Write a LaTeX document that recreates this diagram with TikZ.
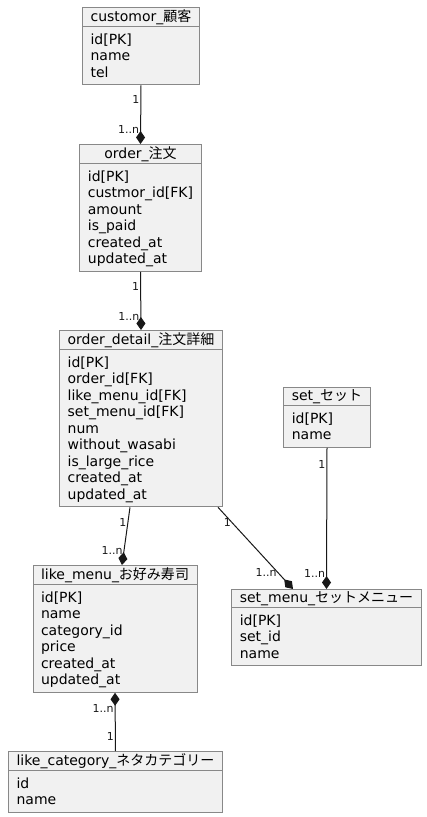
\documentclass[tikz,border=0pt]{standalone}
\usepackage{fontspec}
\setmainfont{DejaVu Sans}
\newfontfamily\jp{Noto Sans CJK JP}
\usetikzlibrary{shapes.multipart,arrows.meta}

\definecolor{boxfill}{HTML}{F1F1F1}
\definecolor{boxline}{HTML}{888888}
\definecolor{linecol}{HTML}{181818}

% struts for the title and the first / last field rows
\newcommand{\hd}{\rule[-3.5bp]{0pt}{13.5bp}}
\newcommand{\fst}{\rule{0pt}{15.5bp}}
\newcommand{\lst}{\rule[-5.5bp]{0pt}{0pt}}

\tikzset{
  entity/.style={draw=boxline, fill=boxfill, line width=1bp, rectangle split, rectangle split parts=2,
    rectangle split part align={center,left}, align=left, inner xsep=8bp, inner ysep=1.5bp,
    anchor=north, font=\fontsize{14bp}{16.5bp}\selectfont},
  rel/.style={draw=linecol, line width=1bp},
  many/.style={-{Diamond[length=13bp,width=9bp,fill=linecol]}},
  manyrev/.style={{Diamond[length=13bp,width=9bp,fill=linecol]}-},
  card/.style={font=\fontsize{11bp}{13bp}\selectfont, inner sep=1bp, left, text=linecol}
}

\begin{document}
\begin{tikzpicture}[x=1bp,y=-1bp]
    \useasboundingbox (0,0) rectangle (426,817);

    \node[entity] (cust) at (141,7) {\hd customor\_{\jp 顧客}
      \nodepart{two} \fst id[PK]\\ name\\ tel\lst};
    \node[entity] (ord) at (140.5,144) {\hd order\_{\jp 注文}
      \nodepart{two} \fst id[PK]\\ custmor\_id[FK]\\ amount\\ is\_paid\\ created\_at\\ updated\_at\lst};
    \node[entity] (det) at (141,330) {\hd order\_detail\_{\jp 注文詳細}
      \nodepart{two} \fst id[PK]\\ order\_id[FK]\\ like\_menu\_id[FK]\\ set\_menu\_id[FK]\\ num\\
      without\_wasabi\\ is\_large\_rice\\ created\_at\\ updated\_at\lst};
    \node[entity] (set) at (327,387) {\hd set\_{\jp セット}
      \nodepart{two} \fst id[PK]\\ name\lst};
    \node[entity] (lm) at (115,565) {\hd like\_menu\_{\jp お好み寿司}
      \nodepart{two} \fst id[PK]\\ name\\ category\_id\\ price\\ created\_at\\ updated\_at\lst};
    \node[entity] (sm) at (326.5,589) {\hd set\_menu\_{\jp セットメニュー}
      \nodepart{two} \fst id[PK]\\ set\_id\\ name\lst};
    \node[entity] (lc) at (115.5,751) {\hd like\_category\_{\jp ネタカテゴリー}
      \nodepart{two} \fst id\\ name\lst};

    \draw[rel,many] (cust.south) -- node[card, pos=0.25] {1} node[card, pos=0.76] {1..n} (ord.north);
    \draw[rel,many] (ord.south) -- node[card, pos=0.25] {1} node[card, pos=0.76] {1..n} (det.north);
    \draw[rel,many] ([xshift=-11bp]det.south) -- node[card, pos=0.26] {1} node[card, pos=0.74] {1..n} ([xshift=7bp]lm.north);
    \draw[rel,many] ([xshift=77bp]det.south) -- node[card, pos=0.19] {1} node[card, pos=0.8] {1..n} ([xshift=-33.5bp]sm.north);
    \draw[rel,many] (set.south) -- node[card, pos=0.12] {1} node[card, pos=0.89] {1..n} (sm.north);
    \draw[rel,manyrev] (lm.south) -- node[card, pos=0.27] {1..n} node[card, pos=0.75] {1} (lc.north);

\end{tikzpicture}
\end{document}
